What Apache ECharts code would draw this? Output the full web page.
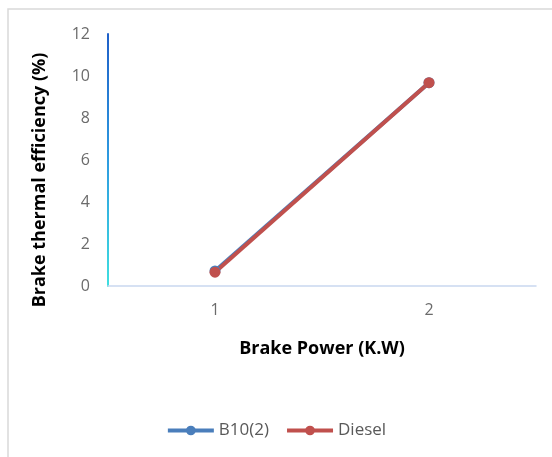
<!DOCTYPE html>
<html><head><meta charset="utf-8">
<script src="https://cdn.jsdelivr.net/npm/echarts@6/dist/echarts.min.js"></script>
<style>html,body{margin:0;padding:0;background:#fff}#c{width:552px;height:457px}</style>
</head><body><div id="c"></div>
<script>
var categories = ['1', '2'];
var b10 = [0.72, 9.68];
var diesel = [0.66, 9.68];
var yTicks = {min: 0, max: 12, interval: 2};
var xTitle = 'Brake Power (K.W)';
var yTitle = 'Brake thermal efficiency (%)';

var chart = echarts.init(document.getElementById('c'));
var font = 'Open Sans, Liberation Sans, sans-serif';
chart.setOption({
  animation: false,
  backgroundColor: '#fff',
  grid: {left: 108, top: 34, right: 16, bottom: 171},
  graphic: [
    {type: 'rect', shape: {x: 8, y: 9, width: 560, height: 460}, style: {fill: 'none', stroke: '#d9d9d9', lineWidth: 1.5}, silent: true},
    {type: 'text', x: 40, y: 180, rotation: Math.PI / 2, style: {text: yTitle, font: 'bold 18px ' + font, fill: '#000', textAlign: 'center', textVerticalAlign: 'middle'}}
  ],
  legend: {
    bottom: 13, left: 'center', itemWidth: 46, itemHeight: 12, itemGap: 16,
    lineStyle: {width: 4},
    textStyle: {fontFamily: font, fontSize: 17, color: '#595959'},
    data: ['B10(2)', 'Diesel']
  },
  xAxis: {
    type: 'category', data: categories, boundaryGap: true,
    name: xTitle, nameLocation: 'middle', nameGap: 54,
    nameTextStyle: {fontFamily: font, fontSize: 18, fontWeight: 'bold', color: '#000'},
    axisLine: {lineStyle: {color: '#c9d7f0', width: 1.5}},
    axisTick: {show: false},
    axisLabel: {fontFamily: font, fontSize: 16, color: '#6b6b6b', margin: 16}
  },
  yAxis: {
    type: 'value', min: yTicks.min, max: yTicks.max, interval: yTicks.interval,
    axisLine: {show: true, lineStyle: {width: 2, color: new echarts.graphic.LinearGradient(0, 0, 0, 1, [{offset: 0, color: '#1f5fc8'}, {offset: 0.5, color: '#2e9be0'}, {offset: 1, color: '#3fe0e0'}])}},
    axisTick: {show: false},
    splitLine: {show: false},
    axisLabel: {fontFamily: font, fontSize: 16, color: '#6b6b6b', margin: 18}
  },
  series: [
    {name: 'B10(2)', type: 'line', data: b10, symbol: 'circle', symbolSize: 11,
     lineStyle: {width: 4, color: '#4a7ebb'}, itemStyle: {color: '#4a7ebb'}},
    {name: 'Diesel', type: 'line', data: diesel, symbol: 'circle', symbolSize: 11,
     lineStyle: {width: 4, color: '#c0504d'}, itemStyle: {color: '#c0504d'}}
  ]
});
</script></body></html>
